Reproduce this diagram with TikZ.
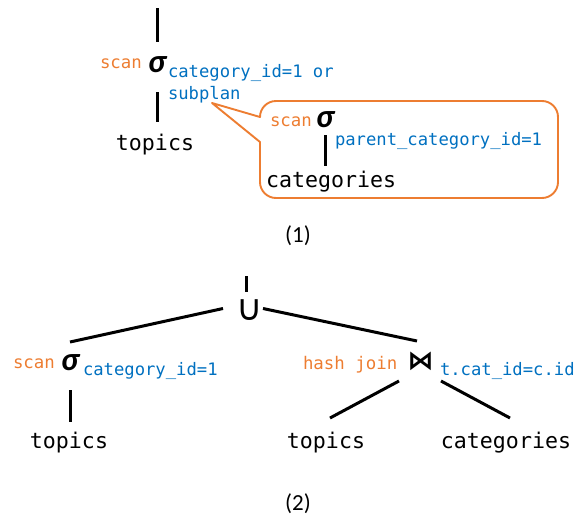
\documentclass[tikz,border=0pt]{standalone}
\usepackage{fontspec}
\setmainfont{Carlito}
\newfontfamily\monof{DejaVu Sans Mono}
\newfontfamily\calf{Carlito}
\newfontfamily\symf{DejaVu Sans}
\definecolor{algo}{HTML}{ED7D31}
\definecolor{cond}{HTML}{0070C0}
\begin{document}
\begin{tikzpicture}[x=1pt,y=-1pt,
  every node/.style={inner sep=0pt, outer sep=0pt},
  rel/.style={anchor=base, font=\monof\fontsize{21.6}{24}\selectfont, text height=16pt, text depth=5pt},
  condlbl/.style={anchor=base west, text=cond, font=\monof\fontsize{17.2}{20}\selectfont},
  algolbl/.style={anchor=base west, text=algo, font=\monof\fontsize{17.4}{20}\selectfont},
  sig/.style={anchor=base, font=\calf\bfseries\itshape\fontsize{33}{36}\selectfont, text height=17pt, text depth=0pt},
  setop/.style={anchor=base, font=\symf\fontsize{36}{40}\selectfont, text height=23pt, text depth=0pt, text width=20pt, align=center},
  joinop/.style={anchor=base, font=\symf\bfseries\fontsize{26}{30}\selectfont, text height=15pt, text depth=0pt, text width=21pt, align=center},
  caption/.style={anchor=base, font=\calf\fontsize{23}{26}\selectfont},
  edge/.style={draw=black, line width=3pt},
  callout/.style={draw=algo, line width=1.9pt, line join=round}]
\useasboundingbox (0,0) rectangle (576,517);

% ---- plan (1): selection with a subplan in its predicate ----
\coordinate (r1) at (157,8);
\node[sig] (s1) at (157,72) {σ};
\node[algolbl] (a1) at (100,68) {scan};
\node[condlbl] (c1) at (168,77) {category\_id=1 or};
\node[condlbl] (c1b) at (168,99) {subplan};
\node[rel] (t1) at (155,150) {topics};
\draw[edge, shorten >=13pt] (r1) -- (r1 |- s1.north);
\draw[edge, shorten <=20pt, shorten >=12pt] (s1.south) -- (s1.south |- t1.north);

% callout holding the subplan
\coordinate (tip) at (212,103);
\draw[callout] (tip) -- (260,142) [rounded corners=16pt] -- (260,198) -- (558,198) -- (558,101) -- (260,101) [sharp corners] -- (260,117) -- cycle;
\node[algolbl] (a2) at (270,126) {scan};
\node[sig] (s2) at (325,127) {σ};
\node[condlbl] (c2) at (335,145) {parent\_category\_id=1};
\node[rel, anchor=base west] (cat1) at (266,187) {categories};
\draw[edge, shorten <=8pt, shorten >=5pt] (s2.south) -- (s2.south |- cat1.north);

\node[caption] (cap1) at (298,242) {(1)};

% ---- plan (2): union of a scan and a hash join ----
\coordinate (r2) at (246,276);
\node[setop] (u) at (246,320) {∪};
\draw[edge, shorten >=5pt] (r2) -- (u.north);

\node[algolbl] (a3) at (13,368) {scan};
\node[sig] (s3) at (70,370) {σ};
\node[condlbl] (c3) at (83,375) {category\_id=1};
\node[rel] (t2) at (69,448) {topics};
\draw[edge] ([xshift=-13pt]u.west) -- ([yshift=11pt]s3.north);
\draw[edge, shorten <=20pt, shorten >=10pt] (s3.south) -- (s3.south |- t2.north);

\node[algolbl] (a4) at (303,369) {hash join};
\node[joinop] (j) at (418,369) {⋈};
\node[condlbl] (c4) at (440,375) {t.cat\_id=c.id};
\node[rel] (t3) at (326,448) {topics};
\node[rel] (cat2) at (506,448) {categories};
\draw[edge] ([xshift=7pt]u.east) -- ([xshift=-1pt,yshift=13pt]j.north);
\draw[edge] ([xshift=-19pt,yshift=-12pt]j.south) -- ([xshift=4pt,yshift=14pt]t3.north);
\draw[edge] ([xshift=23pt,yshift=-12pt]j.south) -- ([xshift=4pt,yshift=14pt]cat2.north);

\node[caption] (cap2) at (298,510) {(2)};
\end{tikzpicture}
\end{document}
